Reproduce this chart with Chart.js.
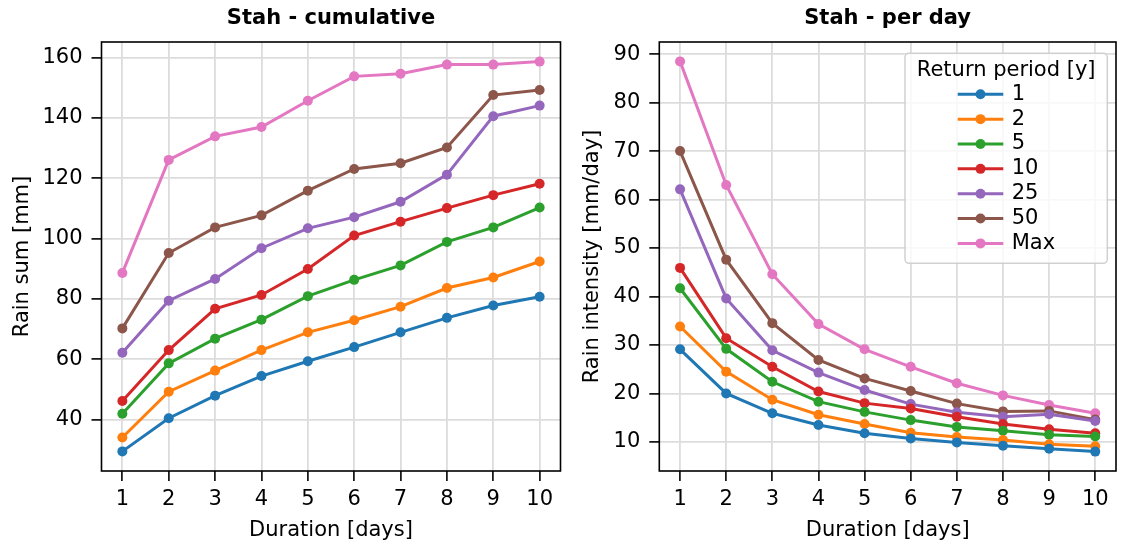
<!DOCTYPE html>
<html>
<head>
<meta charset="utf-8">
<script src="https://cdn.jsdelivr.net/npm/chart.js@4.4.1/dist/chart.umd.min.js"></script>
<style>
  html, body { margin: 0; padding: 0; background: #fff; }
  #wrap { position: relative; width: 1121px; height: 546px; }
  canvas { position: absolute; top: 0; }
</style>
</head>
<body>
<div id="wrap">
  <canvas id="cumChart" width="570" height="546" style="left:0px"></canvas>
  <canvas id="dayChart" width="551" height="546" style="left:570px"></canvas>
</div>
<script>
// durations in days
var durations = [1, 2, 3, 4, 5, 6, 7, 8, 9, 10];
var periods = ['1', '2', '5', '10', '25', '50', 'Max'];
var colors = ['#1f77b4', '#ff7f0e', '#2ca02c', '#d62728', '#9467bd', '#8c564b', '#e377c2'];

// cumulative rain sum [mm]
var sum1   = [29.4, 40.4, 47.9, 54.4, 59.3, 64.0, 68.9, 73.7, 77.8, 80.7];
var sum2   = [34.0, 49.2, 56.2, 63.0, 68.9, 72.9, 77.4, 83.6, 87.1, 92.4];
var sum5   = [41.9, 58.6, 66.8, 73.1, 80.9, 86.3, 91.1, 98.9, 103.7, 110.3];
var sum10  = [46.1, 63.0, 76.7, 81.3, 89.9, 101.0, 105.6, 110.1, 114.4, 118.2];
var sum25  = [62.1, 79.4, 86.6, 96.8, 103.4, 107.1, 112.2, 121.2, 140.6, 144.1];
var sum50  = [70.2, 95.2, 103.7, 107.7, 115.9, 123.1, 125.0, 130.2, 147.6, 149.3];
var sumMax = [88.6, 126.1, 133.9, 137.0, 145.7, 153.8, 154.7, 157.7, 157.7, 158.7];

// rain intensity [mm/day]
var day1   = [29.1, 20.0, 15.9, 13.5, 11.8, 10.7, 9.9, 9.2, 8.6, 8.0];
var day2   = [33.8, 24.5, 18.7, 15.6, 13.7, 11.9, 11.0, 10.4, 9.5, 9.1];
var day5   = [41.7, 29.2, 22.4, 18.3, 16.2, 14.5, 13.1, 12.3, 11.5, 11.1];
var day10  = [45.9, 31.4, 25.5, 20.4, 18.0, 16.9, 15.2, 13.7, 12.6, 11.8];
var day25  = [62.1, 39.6, 28.9, 24.3, 20.7, 17.8, 16.1, 15.2, 15.7, 14.3];
var day50  = [70.0, 47.6, 34.5, 26.9, 23.1, 20.5, 17.9, 16.3, 16.4, 14.6];
var dayMax = [88.5, 63.0, 44.6, 34.3, 29.1, 25.5, 22.1, 19.6, 17.6, 15.9];

var sumTicks = [40, 60, 80, 100, 120, 140, 160];
var dayTicks = [10, 20, 30, 40, 50, 60, 70, 80, 90];

var sumSeries = [sum1, sum2, sum5, sum10, sum25, sum50, sumMax];
var daySeries = [day1, day2, day5, day10, day25, day50, dayMax];

var FONT = 'DejaVu Sans';
Chart.defaults.font.family = FONT;
Chart.defaults.font.size = 21;
Chart.defaults.color = '#000';

function makeDatasets(series) {
  return series.map(function(vals, i) {
    return {
      label: periods[i],
      data: durations.map(function(d, j) { return { x: d, y: vals[j] }; }),
      borderColor: colors[i],
      backgroundColor: colors[i],
      pointBackgroundColor: colors[i],
      pointBorderWidth: 0,
      pointRadius: 5,
      borderWidth: 3,
      tension: 0
    };
  });
}

// frame around plot area
var framePlugin = {
  id: 'frame',
  afterDatasetsDraw: function(chart) {
    var a = chart.chartArea, ctx = chart.ctx;
    ctx.save();
    ctx.strokeStyle = '#000';
    ctx.lineWidth = 1.6;
    ctx.strokeRect(a.left, a.top, a.right - a.left, a.bottom - a.top);
    ctx.restore();
  }
};

// boxed legend inside the plot (upper right)
var boxLegend = {
  id: 'boxLegend',
  afterDraw: function(chart) {
    var ctx = chart.ctx;
    var bx = 335, by = 53.3, bw = 202.3, bh = 210;
    ctx.save();
    ctx.beginPath();
    ctx.roundRect(bx, by, bw, bh, 4);
    ctx.fillStyle = 'rgba(255,255,255,0.8)';
    ctx.fill();
    ctx.strokeStyle = 'rgba(204,204,204,0.9)';
    ctx.lineWidth = 1.5;
    ctx.stroke();
    ctx.fillStyle = '#000';
    ctx.font = '21px "' + FONT + '"';
    ctx.textBaseline = 'middle';
    ctx.textAlign = 'center';
    ctx.fillText('Return period [y]', bx + bw / 2, 71);
    ctx.textAlign = 'left';
    chart.data.datasets.forEach(function(ds, i) {
      var y = 94.3 + i * 24.85;
      ctx.strokeStyle = ds.borderColor;
      ctx.lineWidth = 3;
      ctx.beginPath();
      ctx.moveTo(387.7, y);
      ctx.lineTo(433.3, y);
      ctx.stroke();
      ctx.fillStyle = ds.borderColor;
      ctx.beginPath();
      ctx.arc(410.5, y, 5, 0, Math.PI * 2);
      ctx.fill();
      ctx.fillStyle = '#000';
      ctx.fillText(ds.label, 441.7, y);
    });
    ctx.restore();
  }
};

function makeOptions(title, yTitle, yMin, yMax, yTickVals, yWidth, padRight) {
  return {
    responsive: false,
    animation: false,
    layout: { padding: { left: 0, right: padRight, top: 0, bottom: 0 } },
    plugins: {
      legend: { display: false },
      tooltip: { enabled: false },
      title: {
        display: true,
        text: title,
        fullSize: false,
        font: { size: 21, weight: 'bold' },
        color: '#000',
        padding: { top: 6, bottom: 10.8 }
      }
    },
    scales: {
      x: {
        type: 'linear',
        min: 0.55,
        max: 10.45,
        afterBuildTicks: function(scale) {
          scale.ticks = durations.map(function(v) { return { value: v }; });
        },
        afterFit: function(scale) { scale.height = 75; },
        ticks: { padding: 6, maxRotation: 0, autoSkip: false },
        grid: { color: '#dcdcdc', lineWidth: 1.8, tickLength: 10, tickColor: '#000', tickWidth: 1.6 },
        border: { display: false },
        title: { display: true, text: 'Duration [days]', padding: { top: 0, bottom: 3 } }
      },
      y: {
        type: 'linear',
        min: yMin,
        max: yMax,
        afterBuildTicks: function(scale) {
          scale.ticks = yTickVals.map(function(v) { return { value: v }; });
        },
        afterFit: function(scale) { scale.width = yWidth; },
        ticks: { padding: 9 },
        grid: { color: '#dcdcdc', lineWidth: 1.8, tickLength: 10, tickColor: '#000', tickWidth: 1.6 },
        border: { display: false },
        title: { display: true, text: yTitle, padding: { top: 10, bottom: 0 } }
      }
    }
  };
}

new Chart(document.getElementById('cumChart').getContext('2d'), {
  type: 'line',
  data: { datasets: makeDatasets(sumSeries) },
  options: makeOptions('Stah - cumulative', 'Rain sum [mm]', 22.9, 165.2, sumTicks, 101.5, 9.5),
  plugins: [framePlugin]
});

new Chart(document.getElementById('dayChart').getContext('2d'), {
  type: 'line',
  data: { datasets: makeDatasets(daySeries) },
  options: makeOptions('Stah - per day', 'Rain intensity [mm/day]', 4.0, 92.5, dayTicks, 89.3, 3.7),
  plugins: [framePlugin, boxLegend]
});
</script>
</body>
</html>
